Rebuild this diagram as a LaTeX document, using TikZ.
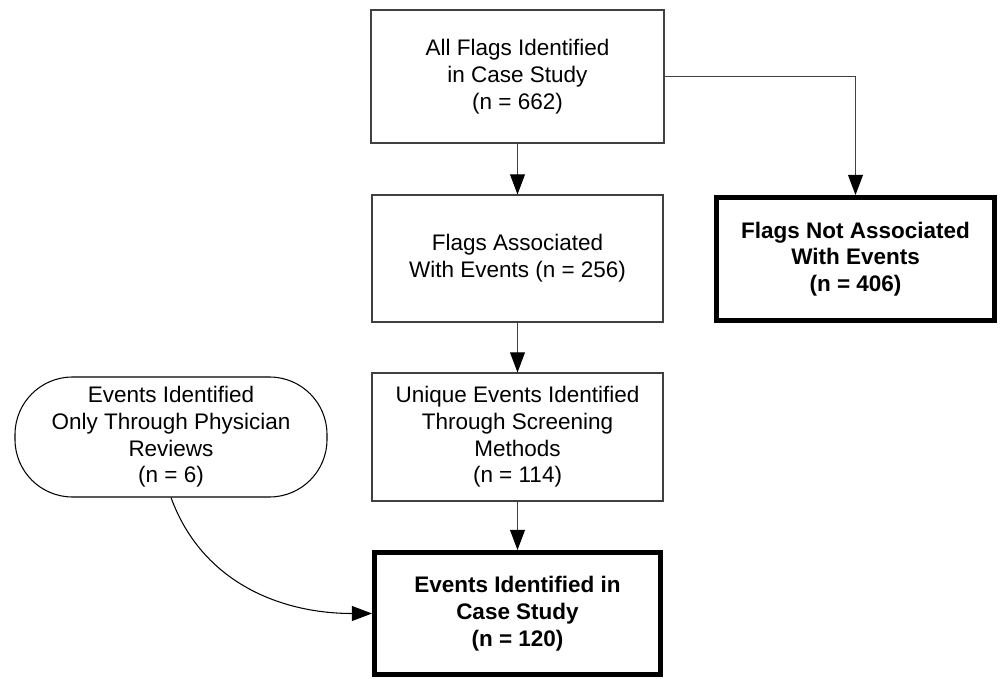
\documentclass[tikz,border=0pt]{standalone}
\usepackage{fontspec}
\setmainfont{Liberation Sans}
\usetikzlibrary{arrows.meta}
\usetikzlibrary{positioning}
\tikzset{box/.style = {draw=black!75, line width=0.6pt, align=center,
                       inner sep=2pt, font=\fontsize{12.8}{15.2}\selectfont}}
\tikzset{final/.style = {box, draw=black, line width=2.8pt,
                         font=\fontsize{12.8}{15.2}\selectfont\bfseries}}
\tikzset{oval/.style = {box, draw=black, rounded corners=1.15cm}}
\tikzset{flow/.style = {draw=black!75, line width=0.6pt,
                        -{Triangle[length=11.5pt, width=8.5pt, fill=black, color=black]}}}

\begin{document}
\begin{tikzpicture}
  \useasboundingbox (0, 0) rectangle (20.04, -13.58);

  \node [box, minimum width=5.86cm, minimum height=2.66cm] (allflags) at (10.35, -1.53)
        {All Flags Identified\\in Case Study\\(n = 662)};
  \node [box, minimum width=5.82cm, minimum height=2.54cm] (assoc) at (10.35, -5.17)
        {Flags Associated\\With Events (n = 256)};
  \node [final, minimum width=5.56cm, minimum height=2.46cm] (notassoc) at (17.11, -5.18)
        {Flags Not Associated\\With Events\\(n = 406)};
  \node [box, minimum width=5.82cm, minimum height=2.56cm] (unique) at (10.35, -8.74)
        {Unique Events Identified\\Through Screening\\Methods\\(n = 114)};
  \node [oval, minimum width=6.24cm, minimum height=2.4cm] (physician) at (3.42, -8.74)
        {Events Identified\\Only Through Physician\\Reviews\\(n = 6)};
  \node [final, minimum width=5.72cm, minimum height=2.44cm] (total) at (10.35, -12.27)
        {Events Identified in\\Case Study\\(n = 120)};

  \draw [flow] (allflags) -- (assoc);
  \draw [flow] (allflags.east) -| (notassoc.north);
  \draw [flow] (assoc) -- (unique);
  \draw [flow] (unique) -- (total);
  \draw [flow, draw=black] (physician.south) to [out=-70, in=180] (total.west);
\end{tikzpicture}
\end{document}
